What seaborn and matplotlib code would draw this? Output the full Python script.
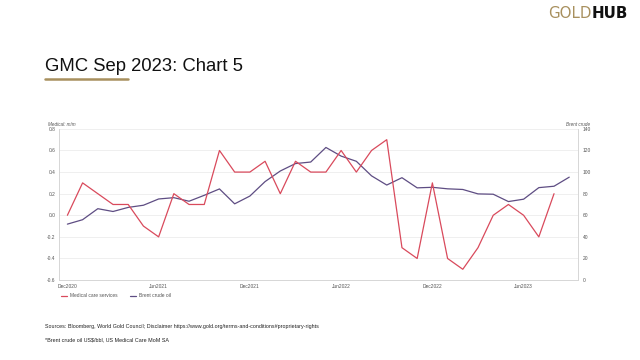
import matplotlib
matplotlib.use("Agg")
import matplotlib.pyplot as plt
import seaborn as sns
import pandas as pd
import numpy as np

sns.set_theme(style="white")
plt.rcParams['font.family'] = ['Liberation Sans', 'DejaVu Sans']

# ---- data ----
medical = [0.0, 0.3, 0.2, 0.1, 0.1, -0.1, -0.2, 0.2, 0.1, 0.1, 0.6, 0.4,
           0.4, 0.5, 0.2, 0.5, 0.4, 0.4, 0.6, 0.4, 0.6, 0.7, -0.3, -0.4,
           0.3, -0.4, -0.5, -0.3, 0.0, 0.1, 0.0, -0.2, 0.2]
brent = [51.8, 55.9, 66.1, 63.5, 67.3, 69.3, 75.1, 76.3, 73.0, 78.5, 84.4, 70.6,
         77.8, 91.2, 101.0, 107.9, 109.3, 122.8, 114.8, 110.0, 96.5, 88.0, 94.8, 85.4,
         85.9, 84.5, 83.9, 79.8, 79.5, 72.7, 74.9, 85.6, 86.9, 95.3]
tick_idx = [0, 6, 12, 18, 24, 30]
tick_labels = ["Dec2020", "Jun2021", "Dec2021", "Jun2022", "Dec2022", "Jun2023"]
left_ticks = [0.8, 0.6, 0.4, 0.2, 0.0, -0.2, -0.4, -0.6]
right_ticks = [140, 120, 100, 80, 60, 40, 20, 0]

RED = "#d94a5c"
PURPLE = "#5e4d83"
GOLD = "#a8905e"
GRID = "#ececec"
SPINE = "#d6d6d6"
TXT = "#555555"

df_med = pd.DataFrame({"x": np.arange(len(medical)), "v": medical})
df_brent = pd.DataFrame({"x": np.arange(len(brent)), "v": brent})

fig = plt.figure(figsize=(6.4, 3.6), dpi=100)
ax = fig.add_axes([0.0927, 0.222, 0.811, 0.42])
ax2 = ax.twinx()

sns.lineplot(data=df_med, x="x", y="v", ax=ax, color=RED, linewidth=0.9,
             label="Medical care services", legend=False)
sns.lineplot(data=df_brent, x="x", y="v", ax=ax2, color=PURPLE, linewidth=0.9,
             label="Brent crude oil", legend=False)

ax.set_xlim(-0.53, 33.6)
ax.set_ylim(-0.6, 0.8)
ax2.set_ylim(0, 140)
ax.set_yticks(left_ticks)
ax.set_yticklabels([f"{t:.1f}" for t in left_ticks])
ax2.set_yticks(right_ticks)
ax2.set_yticklabels([str(t) for t in right_ticks])
ax.set_xticks(tick_idx)
ax.set_xticklabels(tick_labels)
ax.set_xlabel("")
ax.set_ylabel("")
ax2.set_ylabel("")

for a in (ax, ax2):
    a.tick_params(axis="both", labelsize=3.5, colors=TXT, length=0, pad=3)
    for s in a.spines.values():
        s.set_visible(False)
ax.spines["left"].set_visible(True)
ax.spines["left"].set_color(SPINE)
ax.spines["left"].set_linewidth(0.7)
ax.spines["bottom"].set_visible(True)
ax.spines["bottom"].set_color(SPINE)
ax.spines["bottom"].set_linewidth(0.7)
ax2.spines["right"].set_visible(True)
ax2.spines["right"].set_color(SPINE)
ax2.spines["right"].set_linewidth(0.7)
ax.grid(False)
ax2.grid(axis="y", color=GRID, linewidth=0.6)
ax2.set_axisbelow(True)
ax.set_zorder(ax2.get_zorder() + 1)
ax.patch.set_visible(False)

ax.text(-0.022, 1.015, "Medical: m/m", transform=ax.transAxes, fontsize=3.3,
        color=TXT, style="italic", ha="left", va="bottom")
ax.text(1.022, 1.015, "Brent crude", transform=ax.transAxes, fontsize=3.3,
        color=TXT, style="italic", ha="right", va="bottom")

h1, l1 = ax.get_legend_handles_labels()
h2, l2 = ax2.get_legend_handles_labels()
leg = ax.legend(h1 + h2, l1 + l2, loc="upper left", bbox_to_anchor=(0.0, -0.075),
                ncol=2, frameon=False, fontsize=3.5, handlelength=1.2,
                handletextpad=0.6, columnspacing=2.5, borderaxespad=0)
for t in leg.get_texts():
    t.set_color(TXT)

# header / footer
fig.text(0.07, 0.815, "GMC Sep 2023: Chart 5", fontsize=13.3, color="#111111",
         ha="left", va="center")
fig.add_artist(plt.Line2D([0.07, 0.2], [0.781, 0.781], color=GOLD, linewidth=1.8,
                          transform=fig.transFigure))
t1 = fig.text(0.856, 0.962, "GOLD", fontsize=10.8, color=GOLD, ha="left", va="center",
              family=["DejaVu Sans"])
fig.canvas.draw()
bb = t1.get_window_extent()
x_after = fig.transFigure.inverted().transform((bb.x1, bb.y0))[0]
fig.text(x_after, 0.962, "HUB", fontsize=10.8, color="#111111", ha="left", va="center",
         fontweight="bold", family=["DejaVu Sans"])

fig.text(0.07, 0.092, "Sources: Bloomberg, World Gold Council; Disclaimer https://www.gold.org/terms-and-conditions#proprietary-rights",
         fontsize=3.9, color="#222222", ha="left", va="center")
fig.text(0.07, 0.055, "*Brent crude oil US$/bbl, US Medical Care MoM SA",
         fontsize=3.9, color="#222222", ha="left", va="center")

fig.savefig("out.png", dpi=100)
